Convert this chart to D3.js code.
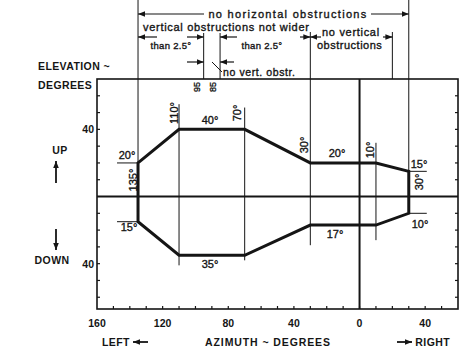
<!DOCTYPE html>
<html>
<head>
<meta charset="utf-8">
<script src="https://cdn.jsdelivr.net/npm/d3@7/dist/d3.min.js"></script>
<style>
  body { margin: 0; background: #fff; }
  text { font-family: "Liberation Sans", Arial, sans-serif; fill: #151515; }
  .thick { stroke: #151515; stroke-width: 0.35px; }
</style>
</head>
<body>
<div id="container"></div>
<script>
let w = 474;
let h = 352;

// azimuth in degrees, left of center is positive, right is negative
let vertexAzimuths = [135, 110, 70, 30, -10, -30];
let upperElevations = [20, 40, 40, 20, 20, 15];
let lowerElevations = [-15, -35, -35, -17, -17, -10];

let xTickValues = [160, 120, 80, 40, 0, -40];
let yTickValues = [40, -40];
let minorStep = 10;

// labels on the boundary
let edgeLabels = ["135°", "20°", "110°", "40°", "70°", "30°", "20°", "10°", "15°", "30°", "10°", "17°", "35°", "15°"];

let viz = d3.select("#container")
  .append("svg")
    .attr("width", w)
    .attr("height", h)
;

let xScale = d3.scaleLinear().domain([160, -60]).range([97, 458]);
let yScale = d3.scaleLinear().domain([-67, 70]).range([309, 79]);

let ink = "#151515";

// frame
viz.append("rect")
  .attr("x", xScale(160))
  .attr("y", yScale(70))
  .attr("width", xScale(-60) - xScale(160))
  .attr("height", yScale(-67) - yScale(70))
  .attr("fill", "none")
  .attr("stroke", ink)
  .attr("stroke-width", 1.6)
;

// minor ticks along the frame
let xMinor = d3.range(150, -60, -minorStep);
viz.selectAll(".xminor").data(xMinor).enter().append("line")
  .attr("x1", d => xScale(d)).attr("x2", d => xScale(d))
  .attr("y1", yScale(-67)).attr("y2", yScale(-67) - 3)
  .attr("stroke", ink).attr("stroke-width", 1.2)
;
let yMinor = d3.range(-60, 70, minorStep).filter(d => d != 0);
viz.selectAll(".ylminor").data(yMinor).enter().append("line")
  .attr("x1", xScale(160)).attr("x2", xScale(160) + 3)
  .attr("y1", d => yScale(d)).attr("y2", d => yScale(d))
  .attr("stroke", ink).attr("stroke-width", 1.2)
;
viz.selectAll(".yrminor").data(yMinor).enter().append("line")
  .attr("x1", xScale(-60)).attr("x2", xScale(-60) - 3)
  .attr("y1", d => yScale(d)).attr("y2", d => yScale(d))
  .attr("stroke", ink).attr("stroke-width", 1.2)
;

// zero lines
viz.append("line")
  .attr("x1", xScale(160)).attr("x2", xScale(-60))
  .attr("y1", yScale(0)).attr("y2", yScale(0))
  .attr("stroke", ink).attr("stroke-width", 2)
;
viz.append("line")
  .attr("x1", xScale(0)).attr("x2", xScale(0))
  .attr("y1", yScale(70)).attr("y2", yScale(-67))
  .attr("stroke", ink).attr("stroke-width", 2)
;

// thin guide lines through the corners
function thin(x, y1, y2){
  viz.append("line")
    .attr("x1", x).attr("x2", x)
    .attr("y1", y1).attr("y2", y2)
    .attr("stroke", ink).attr("stroke-width", 1)
  ;
}
thin(xScale(135), 0, yScale(20));
thin(xScale(110), yScale(55), yScale(-41));
thin(xScale(70), yScale(53), yScale(-38));
thin(xScale(30), 32, yScale(-29));
thin(xScale(-10), yScale(32), yScale(-26));
thin(xScale(-30), 0, yScale(15));
thin(xScale(95), 33, yScale(70));
thin(xScale(85), 33, yScale(70));
thin(xScale(-20), 32, yScale(70));

// short horizontal marks beside the end corners
function hmark(x1, x2, y){
  viz.append("line")
    .attr("x1", x1).attr("x2", x2)
    .attr("y1", y).attr("y2", y)
    .attr("stroke", ink).attr("stroke-width", 1)
  ;
}
hmark(xScale(135) - 21, xScale(135), yScale(20));
hmark(xScale(135) - 21, xScale(135), yScale(-15));
hmark(xScale(-30), xScale(-30) + 18, yScale(15));
hmark(xScale(-30), xScale(-30) + 18, yScale(-10));

// the boundary
let outline = vertexAzimuths.map((a, i) => [a, upperElevations[i]])
  .concat(vertexAzimuths.map((a, i) => [a, lowerElevations[i]]).reverse());

let lineMaker = d3.line()
  .x(d => xScale(d[0]))
  .y(d => yScale(d[1]))
  .curve(d3.curveLinearClosed)
;
viz.append("path")
  .attr("d", lineMaker(outline))
  .attr("fill", "none")
  .attr("stroke", ink)
  .attr("stroke-width", 3)
  .attr("stroke-linejoin", "miter")
;

// boundary labels
let labelPlaces = [
  {x: xScale(135) - 5, y: 180, r: true},
  {x: 127, y: 159},
  {x: 174, y: 113, r: true},
  {x: 210, y: 124},
  {x: 237, y: 113, r: true},
  {x: 304, y: 145, r: true},
  {x: 337, y: 157},
  {x: 370, y: 150, r: true},
  {x: 419, y: 168},
  {x: 419, y: 182, r: true},
  {x: 420, y: 228},
  {x: 335, y: 238},
  {x: 210, y: 268},
  {x: 129, y: 231}
];
labelPlaces.forEach(function(p, i){
  let t = viz.append("text")
    .text(edgeLabels[i])
    .attr("class", "thick")
    .attr("font-size", "11px")
    .attr("text-anchor", "middle")
  ;
  if(p.r){
    t.attr("transform", "translate(" + p.x + "," + p.y + ") rotate(-90)")
     .attr("dy", "0.35em");
  }else{
    t.attr("x", p.x).attr("y", p.y);
  }
});

// axis tick labels
viz.selectAll(".xtick").data(xTickValues).enter().append("text")
  .text(d => Math.abs(d))
  .attr("x", d => xScale(d))
  .attr("y", 327)
  .attr("text-anchor", "middle")
  .attr("font-size", "10.5px")
  .attr("font-weight", "bold")
;
viz.selectAll(".ytick").data(yTickValues).enter().append("text")
  .text(d => Math.abs(d))
  .attr("x", 94)
  .attr("y", d => yScale(d) + 4)
  .attr("text-anchor", "end")
  .attr("font-size", "10.5px")
  .attr("font-weight", "bold")
;

// axis titles
function boldText(s, x, y, anchor){
  return viz.append("text")
    .text(s)
    .attr("x", x).attr("y", y)
    .attr("text-anchor", anchor || "start")
    .attr("font-size", "10.5px")
    .attr("font-weight", "bold")
    .attr("letter-spacing", "0.4px")
  ;
}
boldText("ELEVATION ~", 38, 70);
boldText("DEGREES", 38, 89);
boldText("UP", 60, 154, "middle");
boldText("DOWN", 52, 264, "middle");
boldText("AZIMUTH ~ DEGREES", 268, 346, "middle").attr("letter-spacing", "0.9px");
boldText("LEFT", 102, 346);
boldText("RIGHT", 450, 346, "end");

// arrow heads
let defs = viz.append("defs");
defs.append("marker")
  .attr("id", "head")
  .attr("viewBox", "0 0 10 10")
  .attr("refX", 10).attr("refY", 5)
  .attr("markerWidth", 7).attr("markerHeight", 7)
  .attr("markerUnits", "userSpaceOnUse")
  .attr("orient", "auto")
  .append("path")
    .attr("d", "M0,1 L10,5 L0,9 Z")
    .attr("fill", ink)
;
function arrow(x1, y1, x2, y2, width){
  viz.append("line")
    .attr("x1", x1).attr("y1", y1)
    .attr("x2", x2).attr("y2", y2)
    .attr("stroke", ink)
    .attr("stroke-width", width || 1.2)
    .attr("marker-end", "url(#head)")
  ;
}
arrow(56, 183, 56, 161, 1.8);
arrow(56, 229, 56, 250, 1.8);
arrow(148, 342, 133, 342, 1.8);
arrow(397, 342, 412, 342, 1.8);

// obstruction notes above the frame
function note(s, x, y, anchor){
  return viz.append("text")
    .text(s)
    .attr("class", "thick")
    .attr("x", x).attr("y", y)
    .attr("text-anchor", anchor || "start")
    .attr("font-size", "11px")
    .attr("letter-spacing", "0.7px")
  ;
}
let xL = xScale(135), xR = xScale(-30);
arrow(204, 14, xL, 14);
arrow(371, 14, xR, 14);
note("no horizontal obstructions", 288, 18, "middle").attr("letter-spacing", "1.3px");

note("vertical obstructions not wider", 143, 31);
arrow(157, 37, xL, 37);
arrow(187, 37, xScale(95), 37);
note("than 2.5°", 171, 49, "middle").attr("font-size", "9.5px").attr("letter-spacing", "0.3px");
arrow(237, 37, xScale(85), 37);
arrow(300, 37, xScale(30), 37);
note("than 2.5°", 262, 49, "middle").attr("font-size", "9.5px").attr("letter-spacing", "0.3px");

arrow(321, 37, xScale(30), 37);
arrow(383, 37, xScale(-20), 37);
note("no vertical", 322, 36);
note("obstructions", 317, 49).attr("letter-spacing", "0.5px");

arrow(187, 62, xScale(95), 62);
arrow(234, 62, xScale(85), 62);
viz.append("line")
  .attr("x1", 212).attr("y1", 62)
  .attr("x2", 222).attr("y2", 72)
  .attr("stroke", ink).attr("stroke-width", 1)
;
note("no vert. obstr.", 223, 76).attr("font-size", "10.5px").attr("letter-spacing", "0.6px");

// 95 / 85 marks just under the frame top
[95, 85].forEach(function(a){
  viz.append("text")
    .text(a)
    .attr("class", "thick")
    .attr("transform", "translate(" + (xScale(a) - 4) + "," + 87 + ") rotate(-90)")
    .attr("text-anchor", "middle")
    .attr("font-size", "9px")
  ;
});
</script>
</body>
</html>
